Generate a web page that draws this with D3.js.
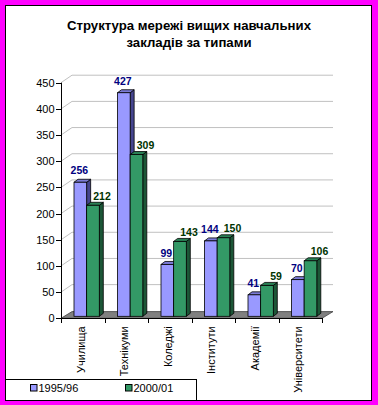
<!DOCTYPE html>
<html>
<head>
<meta charset="utf-8">
<script src="https://cdn.jsdelivr.net/npm/d3@7"></script>
<style>
  html, body { margin: 0; padding: 0; background: #ff00ff; }
  svg { display: block; font-family: 'Liberation Sans', Arial, sans-serif; }
</style>
</head>
<body>
<div id="chart"></div>
<script>
// Chart data
const categories = ['Училища', 'Технікуми', 'Коледжі', 'Інститути', 'Академії', 'Університети']
const seriesNames = ['1995/96', '2000/01']
const values1995 = [256, 427, 99, 144, 41, 70]
const values2000 = [212, 309, 143, 150, 59, 106]
const yTicks = [0, 50, 100, 150, 200, 250, 300, 350, 400, 450]
const titleLines = ['Структура мережі вищих навчальних', 'закладів за типами']

const width = 378
const height = 405

// Colours for front, top and side faces of each series
const style = [
  {front: '#9999ff', top: '#7b7bd6', side: '#45458f', label: '#000080'},
  {front: '#339966', top: '#2a8055', side: '#1c5637', label: '#003300'}
]

// Depth of the back wall and of the bars
const wall = {dx: 11, dy: -7.5}
const barDepth = {dx: 4, dy: -3}
const barShift = {dx: 0, dy: -2}

const svg = d3.select('#chart')
  .append('svg')
  .attr('width', width)
  .attr('height', height)

// Frame
svg.append('rect')
  .attr('x', 0).attr('y', 0).attr('width', width).attr('height', height)
  .style('fill', '#ff00ff')
svg.append('rect')
  .attr('x', 5.5).attr('y', 5.5).attr('width', 366).attr('height', 395)
  .style('fill', '#fff')
  .style('stroke', '#000')

// Title
svg.append('text')
  .attr('x', 189)
  .attr('y', 30)
  .style('text-anchor', 'middle')
  .style('font-size', '13.2px')
  .style('font-weight', 'bold')
  .selectAll('tspan')
  .data(titleLines)
  .join('tspan')
  .attr('x', 189)
  .attr('dy', (d, i) => i === 0 ? 0 : 16.5)
  .text(d => d)

// Scales
const xScale = d3.scaleBand().domain(categories).range([61, 322])
const sScale = d3.scaleBand().domain(seriesNames).range([13, 38.3])
const yScale = d3.scaleLinear().domain([0, 450]).range([318.3, 82.7])

// Gridlines on back wall
const gGrid = svg.append('g')
gGrid.selectAll('.grid')
  .data(yTicks.filter(t => t > 0))
  .join('path')
  .attr('class', 'grid')
  .attr('d', t => {
    const y = yScale(t)
    return `M61,${y}L${61 + wall.dx},${y + wall.dy}L${322 + wall.dx},${y + wall.dy}`
  })
  .style('fill', 'none')
  .style('stroke', '#c0c0c0')
  .style('stroke-width', 1)

// Floor
const y0 = yScale(0)
svg.append('path')
  .attr('d', `M61,${y0}L${61 + wall.dx},${y0 + wall.dy + 0.8}L${322 + wall.dx},${y0 + wall.dy + 0.8}L322,${y0}Z`)
  .style('fill', '#808080')
  .style('stroke', '#404040')
  .style('stroke-width', 0.8)

// Bars
const barData = []
categories.forEach((c, i) => {
  [values1995, values2000].forEach((vals, s) => {
    barData.push({cat: c, s: s, v: vals[i]})
  })
})

const gBars = svg.append('g')
const bw = sScale.bandwidth()

const bar = gBars.selectAll('.bar')
  .data(barData)
  .join('g')
  .attr('class', 'bar')

function barGeom(d) {
  const x0 = xScale(d.cat) + sScale(seriesNames[d.s]) + barShift.dx
  const x1 = x0 + bw
  const yb = yScale(0) + barShift.dy
  const yt = yScale(d.v) + barShift.dy
  return {x0, x1, yb, yt}
}

bar.append('path')
  .attr('d', d => {
    const g = barGeom(d)
    return `M${g.x1},${g.yb}L${g.x1 + barDepth.dx},${g.yb + barDepth.dy}L${g.x1 + barDepth.dx},${g.yt + barDepth.dy}L${g.x1},${g.yt}Z`
  })
  .style('fill', d => style[d.s].side)
  .style('stroke', '#000')
  .style('stroke-width', 0.8)

bar.append('path')
  .attr('d', d => {
    const g = barGeom(d)
    return `M${g.x0},${g.yt}L${g.x0 + barDepth.dx},${g.yt + barDepth.dy}L${g.x1 + barDepth.dx},${g.yt + barDepth.dy}L${g.x1},${g.yt}Z`
  })
  .style('fill', d => style[d.s].top)
  .style('stroke', '#000')
  .style('stroke-width', 0.8)

bar.append('rect')
  .attr('x', d => barGeom(d).x0)
  .attr('y', d => barGeom(d).yt)
  .attr('width', bw)
  .attr('height', d => barGeom(d).yb - barGeom(d).yt)
  .style('fill', d => style[d.s].front)
  .style('stroke', '#000')
  .style('stroke-width', 0.8)

// Value labels
gBars.selectAll('.vlabel')
  .data(barData)
  .join('text')
  .attr('class', 'vlabel')
  .attr('x', d => barGeom(d).x0 + bw / 2 + (d.s === 0 ? -1 : 9))
  .attr('y', d => barGeom(d).yt - (d.s === 0 ? 11.5 : 9.3))
  .attr('dy', '0.35em')
  .style('text-anchor', 'middle')
  .style('font-size', '10.5px')
  .style('font-weight', 'bold')
  .style('fill', d => style[d.s].label)
  .text(d => d.v)

// Y axis
const gY = svg.append('g')
gY.append('line')
  .attr('x1', 61.5).attr('x2', 61.5)
  .attr('y1', yScale(450)).attr('y2', yScale(0))
  .style('stroke', '#000')
gY.selectAll('.ytick')
  .data(yTicks)
  .join('line')
  .attr('class', 'ytick')
  .attr('x1', 56).attr('x2', 61.5)
  .attr('y1', d => Math.round(yScale(d)) + 0.5)
  .attr('y2', d => Math.round(yScale(d)) + 0.5)
  .style('stroke', '#000')
gY.selectAll('.ylabel')
  .data(yTicks)
  .join('text')
  .attr('class', 'ylabel')
  .attr('x', 54.5)
  .attr('y', d => yScale(d))
  .attr('dy', '0.36em')
  .style('text-anchor', 'end')
  .style('font-size', '11px')
  .text(d => d)

// X axis
const gX = svg.append('g')
gX.append('line')
  .attr('x1', 61).attr('x2', 322)
  .attr('y1', Math.round(y0) + 0.5).attr('y2', Math.round(y0) + 0.5)
  .style('stroke', '#000')
gX.selectAll('.xtick')
  .data(categories.concat(['end']))
  .join('line')
  .attr('class', 'xtick')
  .attr('x1', (d, i) => Math.round(61 + i * xScale.step()) + 0.5)
  .attr('x2', (d, i) => Math.round(61 + i * xScale.step()) + 0.5)
  .attr('y1', Math.round(y0))
  .attr('y2', Math.round(y0) + 5)
  .style('stroke', '#000')
gX.selectAll('.xlabel')
  .data(categories)
  .join('text')
  .attr('class', 'xlabel')
  .attr('transform', d => `translate(${xScale(d) + xScale.bandwidth() / 2 - 2},${y0 + 8}) rotate(-90)`)
  .attr('dy', '0.36em')
  .style('text-anchor', 'end')
  .style('font-size', '11px')
  .text(d => d)

// Legend
const gLegend = svg.append('g')
gLegend.append('rect')
  .attr('x', 5.5).attr('y', 379.5).attr('width', 191).attr('height', 21)
  .style('fill', '#fff')
  .style('stroke', '#000')
const legendX = [30, 125]
seriesNames.forEach((name, i) => {
  gLegend.append('rect')
    .attr('x', legendX[i] + 0.5).attr('y', 384.5)
    .attr('width', 6.5).attr('height', 6.5)
    .style('fill', style[i].front)
    .style('stroke', '#000')
  gLegend.append('text')
    .attr('x', legendX[i] + 8.5)
    .attr('y', 391.5)
    .style('font-size', '11px')
    .text(name)
})
</script>
</body>
</html>
